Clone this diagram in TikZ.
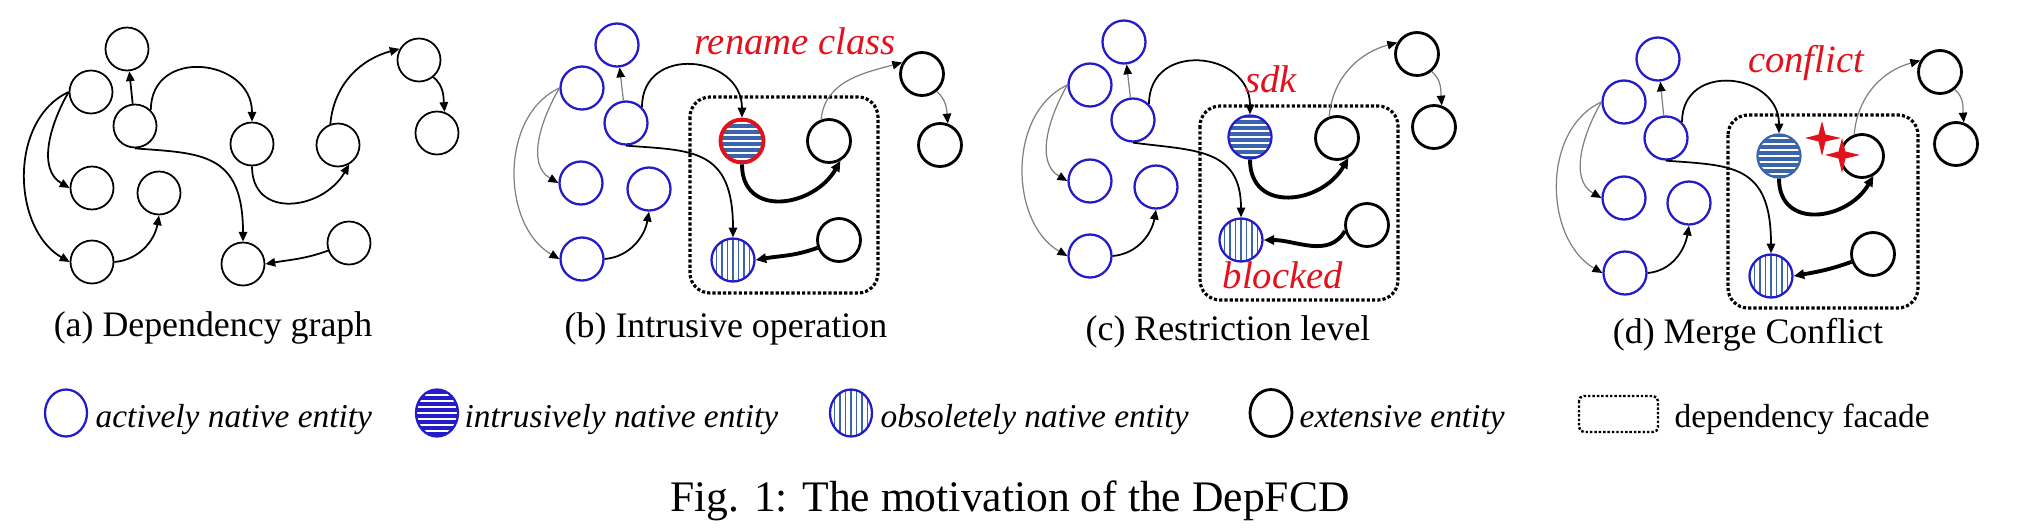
\documentclass[tikz,border=0pt]{standalone}
\usepackage{fontspec}
\setmainfont{Liberation Serif}
\usepackage{xcolor}
\usepackage{tikz}
\usetikzlibrary{shapes, arrows.meta, positioning}

\definecolor{nativeblue}{RGB}{36,28,200}
\definecolor{stripeblue}{RGB}{58,100,172}
\definecolor{alertred}{RGB}{226,18,28}

\tikzset{
  entity/.style={circle, minimum size=4.3mm, inner sep=0pt},
  plainnode/.style={entity, draw, line width=0.5pt},
  native/.style={entity, draw=nativeblue, line width=0.65pt},
  extensive/.style={entity, draw, line width=0.8pt},
  intrusive/.style={entity, draw=stripeblue, fill=stripeblue, line width=0.65pt,
    path picture={\foreach \k in {-3,...,3} \draw[white, line width=0.55pt] ([yshift=\k*0.6mm]path picture bounding box.west) -- ([yshift=\k*0.6mm]path picture bounding box.east);}},
  obsolete/.style={entity, draw=nativeblue, fill=white, line width=0.65pt,
    path picture={\foreach \k in {-3,...,3} \draw[stripeblue, line width=0.45pt] ([xshift=\k*0.55mm]path picture bounding box.north) -- ([xshift=\k*0.55mm]path picture bounding box.south);}},
  keyshape/.style={ellipse, minimum width=4.2mm, minimum height=4.7mm},
  dep/.style={line width=0.5pt, -{Triangle[length=2.8pt, width=2.4pt]}},
  weakdep/.style={draw=black!50, line width=0.35pt, -{Triangle[length=2.8pt, width=2.4pt, color=black]}},
  strongdep/.style={line width=1.1pt, -{Triangle[length=3pt, width=2.6pt]}},
  facade/.style={draw, line width=0.9pt, dash pattern=on 0.9pt off 0.6pt, rounded corners=2mm},
  remark/.style={text=alertred, font=\fontsize{11}{13}\selectfont\itshape, anchor=base, inner sep=0pt},
  subcap/.style={font=\fontsize{10.2}{12}\selectfont, anchor=base, inner sep=0pt},
  keytext/.style={font=\fontsize{9.5}{11}\selectfont\itshape, anchor=base west, inner sep=0pt}
}

\begin{document}
\begin{tikzpicture}[x=0.1mm, y=0.1mm]
        \useasboundingbox (0,0) rectangle (2044,-530);

        \node[plainnode] (a1) at (127,-49) {};
        \node[plainnode] (a2) at (91,-92) {};
        \node[plainnode] (a3) at (135,-126) {};
        \node[plainnode] (a4) at (92,-188) {};
        \node[plainnode] (a5) at (159,-193) {};
        \node[plainnode] (a6) at (92,-262) {};
        \node[plainnode] (a7) at (252,-144) {};
        \node[plainnode] (a8) at (338,-145) {};
        \node[plainnode] (a9) at (419,-60) {};
        \node[plainnode] (a10) at (437,-133) {};
        \node[plainnode] (a11) at (243,-264) {};
        \node[plainnode] (a12) at (349,-243) {};

        \draw[dep] (a3) -- (a1);
        \draw[dep] (a2.west) to[out=240, in=150] (a4.west);
        \draw[dep] (a2.west) to[out=205, in=150] (a6.west);
        \draw[dep] (a6.east) to[out=5, in=260] (a5.south);
        \draw[dep] (a3.45) to[out=90, in=90, looseness=1.6] (a7.north);
        \draw[dep] (a3.south) .. controls +(65,-5) and +(0,90) .. (a11.north);
        \draw[dep] (a7.south) to[out=-90, in=240, looseness=1.4] (a8.-60);
        \draw[dep] (a8.110) to[out=85, in=195] (a9.150);
        \draw[dep] (a9.-50) to[out=-40, in=95] (a10.70);
        \draw[dep] (a12.200) to[out=200, in=10] (a11.east);

        \draw[facade] (690,-97) rectangle (878,-293);
        \node[native] (b1) at (617,-45) {};
        \node[native] (b2) at (582,-88) {};
        \node[native] (b3) at (626,-123) {};
        \node[native] (b4) at (581,-183) {};
        \node[native] (b5) at (649,-189) {};
        \node[native] (b6) at (582,-259) {};
        \node[intrusive, draw=alertred, line width=1.1pt] (b7) at (742,-141) {};
        \node[extensive] (b8) at (829,-141) {};
        \node[obsolete] (b9) at (733,-260) {};
        \node[extensive] (b10) at (839,-240) {};
        \node[extensive] (b11) at (922,-74) {};
        \node[extensive] (b12) at (940,-145) {};

        \draw[weakdep] (b3) -- (b1);
        \draw[weakdep] (b2.west) to[out=240, in=150] (b4.west);
        \draw[weakdep] (b2.west) to[out=205, in=150] (b6.west);
        \draw[dep] (b6.east) to[out=5, in=260] (b5.south);
        \draw[dep] (b3.45) to[out=90, in=90, looseness=1.6] (b7.north);
        \draw[dep] (b3.south) .. controls +(65,-5) and +(0,90) .. (b9.north);
        \draw[strongdep] (b7.south) to[out=-90, in=240, looseness=1.4] (b8.-60);
        \draw[weakdep] (b8.110) to[out=85, in=195] (b11.150);
        \draw[weakdep] (b11.-50) to[out=-40, in=95] (b12.70);
        \draw[strongdep] (b10.200) to[out=200, in=10] (b9.east);
        \node[remark] (rename) at (795,-54) {rename class};

        \draw[facade] (1200,-106) rectangle (1398,-300);
        \node[native] (c1) at (1124,-42) {};
        \node[native] (c2) at (1090,-85) {};
        \node[native] (c3) at (1133,-120) {};
        \node[native] (c4) at (1090,-181) {};
        \node[native] (c5) at (1156,-187) {};
        \node[native] (c6) at (1090,-256) {};
        \node[intrusive, draw=nativeblue] (c7) at (1250,-137) {};
        \node[extensive] (c8) at (1337,-138) {};
        \node[obsolete] (c9) at (1241,-240) {};
        \node[extensive] (c10) at (1367,-225) {};
        \node[extensive] (c11) at (1417,-54) {};
        \node[extensive] (c12) at (1434,-127) {};

        \draw[weakdep] (c3) -- (c1);
        \draw[weakdep] (c2.west) to[out=240, in=150] (c4.west);
        \draw[weakdep] (c2.west) to[out=205, in=150] (c6.west);
        \draw[dep] (c6.east) to[out=5, in=260] (c5.south);
        \draw[dep] (c3.45) to[out=90, in=90, looseness=1.6] (c7.north);
        \draw[dep] (c3.south) .. controls +(60,-8) and +(0,70) .. (c9.north);
        \draw[strongdep] (c7.south) to[out=-90, in=240, looseness=1.4] (c8.-60);
        \draw[weakdep] (c8.110) to[out=85, in=195] (c11.150);
        \draw[weakdep] (c11.-50) to[out=-40, in=95] (c12.70);
        \draw[strongdep] (c10.195) to[out=240, in=0] (c9.east);
        \node[remark] (sdk) at (1271,-92) {sdk};
        \node[remark] (blocked) at (1283,-288) {blocked};

        \draw[facade] (1728,-115) rectangle (1918,-308);
        \node[native] (d1) at (1658,-59) {};
        \node[native] (d2) at (1624,-102) {};
        \node[native] (d3) at (1666,-138) {};
        \node[native] (d4) at (1624,-198) {};
        \node[native] (d5) at (1689,-203) {};
        \node[native] (d6) at (1625,-273) {};
        \node[intrusive] (d7) at (1779,-156) {};
        \node[extensive] (d8) at (1862,-156) {};
        \node[obsolete] (d9) at (1771,-276) {};
        \node[extensive] (d10) at (1873,-254) {};
        \node[extensive] (d11) at (1940,-72) {};
        \node[extensive] (d12) at (1956,-144) {};

        \draw[weakdep] (d3) -- (d1);
        \draw[weakdep] (d2.west) to[out=240, in=150] (d4.west);
        \draw[weakdep] (d2.west) to[out=205, in=150] (d6.west);
        \draw[dep] (d6.east) to[out=5, in=260] (d5.south);
        \draw[dep] (d3.45) to[out=90, in=90, looseness=1.6] (d7.north);
        \draw[dep] (d3.south) .. controls +(65,-5) and +(0,90) .. (d9.north);
        \draw[strongdep] (d7.south) to[out=-90, in=240, looseness=1.4] (d8.-60);
        \draw[weakdep] (d8.110) to[out=85, in=195] (d11.150);
        \draw[weakdep] (d11.-50) to[out=-40, in=95] (d12.70);
        \draw[strongdep] (d10.200) to[out=200, in=10] (d9.east);
        \node[remark] (conflict) at (1806,-72) {conflict};
        \fill[alertred] (1822,-138) +(0,17) -- +(3.5,3.5) -- +(19,0) -- +(3.5,-3.5) -- +(0,-18) -- +(-3.5,-3.5) -- +(-17,0) -- +(-3.5,3.5) -- cycle;
        \fill[alertred] (1842,-155) +(0,17) -- +(3.5,3.5) -- +(18,0) -- +(3.5,-3.5) -- +(0,-18) -- +(-3.5,-3.5) -- +(-17,0) -- +(-3.5,3.5) -- cycle;

        \node[subcap] (capa) at (213,-336) {(a) Dependency graph};
        \node[subcap] (capb) at (726,-337) {(b) Intrusive operation};
        \node[subcap] (capc) at (1228,-340) {(c) Restriction level};
        \node[subcap] (capd) at (1748,-343) {(d) Merge Conflict};

        \node[native, keyshape] (key1) at (66,-413) {};
        \node[keytext] at (95,-427) {actively native entity};
        \node[intrusive, keyshape, draw=nativeblue, fill=nativeblue] (key2) at (437,-413) {};
        \node[keytext] at (464,-427) {intrusively native entity};
        \node[obsolete, keyshape] (key3) at (851,-413) {};
        \node[keytext] at (880,-427) {obsoletely native entity};
        \node[extensive, keyshape] (key4) at (1271,-413) {};
        \node[keytext] at (1299,-427) {extensive entity};
        \draw[facade, line width=0.7pt, dash pattern=on 0.7pt off 0.55pt, rounded corners=0.5mm] (1579,-396) rectangle (1658,-432);
        \node[keytext, font=\fontsize{9.5}{11}\selectfont] at (1674,-427) {dependency facade};

        \node[font=\fontsize{12.4}{14}\selectfont, anchor=base, inner sep=0pt] (figcap) at (1010,-511) {Fig. 1: The motivation of the DepFCD};
    \end{tikzpicture}
\end{document}
